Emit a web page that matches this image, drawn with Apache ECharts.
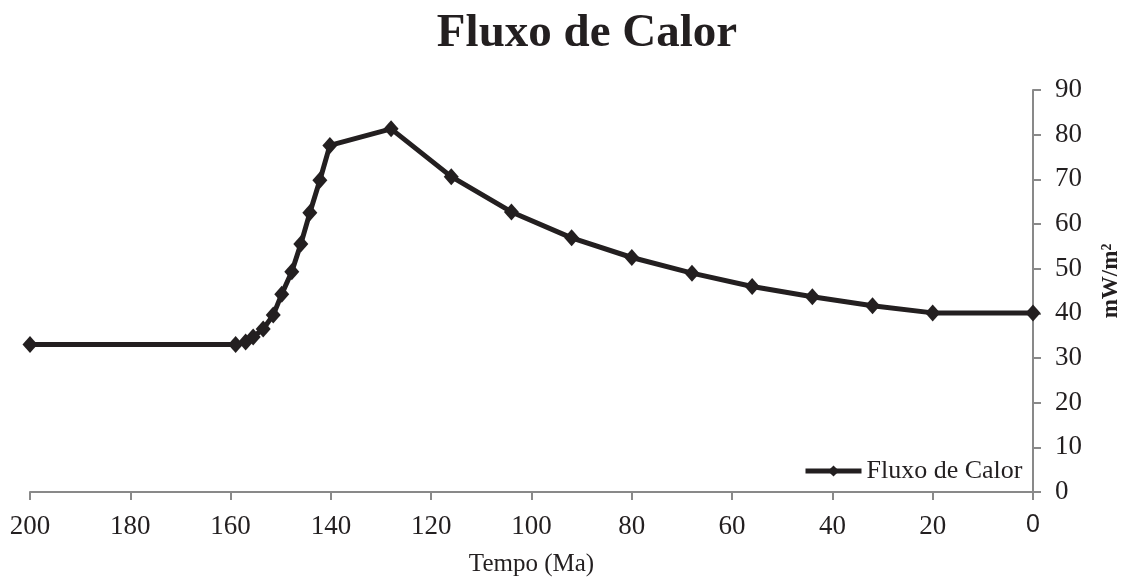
<!DOCTYPE html>
<html>
<head>
<meta charset="utf-8">
<script src="https://cdn.jsdelivr.net/npm/echarts@6/dist/echarts.min.js"></script>
<style>
html,body{margin:0;padding:0;background:#fff;}
#chart{width:1125px;height:581px;}
</style>
</head>
<body>
<div id="chart"></div>
<script>
const titleText = 'Fluxo de Calor';
const seriesName = 'Fluxo de Calor';
const xAxisName = 'Tempo (Ma)';
const yAxisName = 'mW/m²';
const tempo = [200, 159, 157, 155.5, 153.5, 151.5, 149.8, 147.8, 146, 144.2, 142.2, 140.2, 128, 116, 104, 92, 80, 68, 56, 44, 32, 20, 0];
const fluxo = [33, 33, 33.6, 34.7, 36.5, 39.6, 44.3, 49.3, 55.5, 62.5, 69.8, 77.6, 81.3, 70.6, 62.7, 56.9, 52.5, 49.0, 46.0, 43.7, 41.7, 40.1, 40.1];

const serif = '"Liberation Serif", "Times New Roman", serif';
const axisGray = '#898989';
const ink = '#231f20';

const chart = echarts.init(document.getElementById('chart'), null, {renderer: 'canvas'});
chart.setOption({
  backgroundColor: '#ffffff',
  animation: false,
  title: {
    text: titleText,
    left: 582,
    top: 5,
    textAlign: 'center',
    textStyle: {fontFamily: serif, fontWeight: 'bold', fontSize: 47, color: ink}
  },
  legend: {
    data: [seriesName],
    left: 798,
    top: 453,
    itemWidth: 56,
    itemHeight: 14,
    lineStyle: {width: 5, color: ink},
    itemStyle: {color: ink},
    textStyle: {fontFamily: serif, fontSize: 26, color: ink}
  },
  grid: {left: 30, right: 92, top: 90, bottom: 89, containLabel: false, outerBoundsMode: 'none'},
  xAxis: {
    type: 'value',
    inverse: true,
    min: 0,
    max: 200,
    interval: 20,
    name: xAxisName,
    nameLocation: 'middle',
    nameGap: 60,
    nameTextStyle: {fontFamily: serif, fontSize: 25, color: ink},
    axisLine: {lineStyle: {color: axisGray, width: 2}},
    axisTick: {show: true, length: 8, lineStyle: {color: axisGray, width: 2}},
    splitLine: {show: false},
    axisLabel: {
      margin: 21,
      fontFamily: serif,
      fontSize: 27,
      color: ink,
      formatter: function (v) { return v === 0 ? '{s|0}' : String(v); },
      rich: {s: {fontFamily: '"Liberation Sans", Arial, sans-serif', fontSize: 25, color: ink}}
    }
  },
  yAxis: {
    type: 'value',
    position: 'right',
    min: 0,
    max: 90,
    interval: 10,
    name: yAxisName,
    nameLocation: 'middle',
    nameRotate: 90,
    nameGap: 67,
    nameTextStyle: {fontFamily: serif, fontWeight: 'bold', fontSize: 23, color: ink, padding: [0, 0, 0, 20]},
    axisLine: {show: true, lineStyle: {color: axisGray, width: 2}},
    axisTick: {show: true, length: 8, lineStyle: {color: axisGray, width: 2}},
    splitLine: {show: false},
    axisLabel: {margin: 22, fontFamily: serif, fontSize: 27, color: ink}
  },
  series: [{
    name: seriesName,
    type: 'line',
    data: tempo.map((t, i) => [t, fluxo[i]]),
    symbol: 'diamond',
    symbolSize: [15, 17],
    showAllSymbol: true,
    lineStyle: {color: ink, width: 5},
    itemStyle: {color: ink, borderWidth: 0},
    clip: false
  }]
});
</script>
</body>
</html>
